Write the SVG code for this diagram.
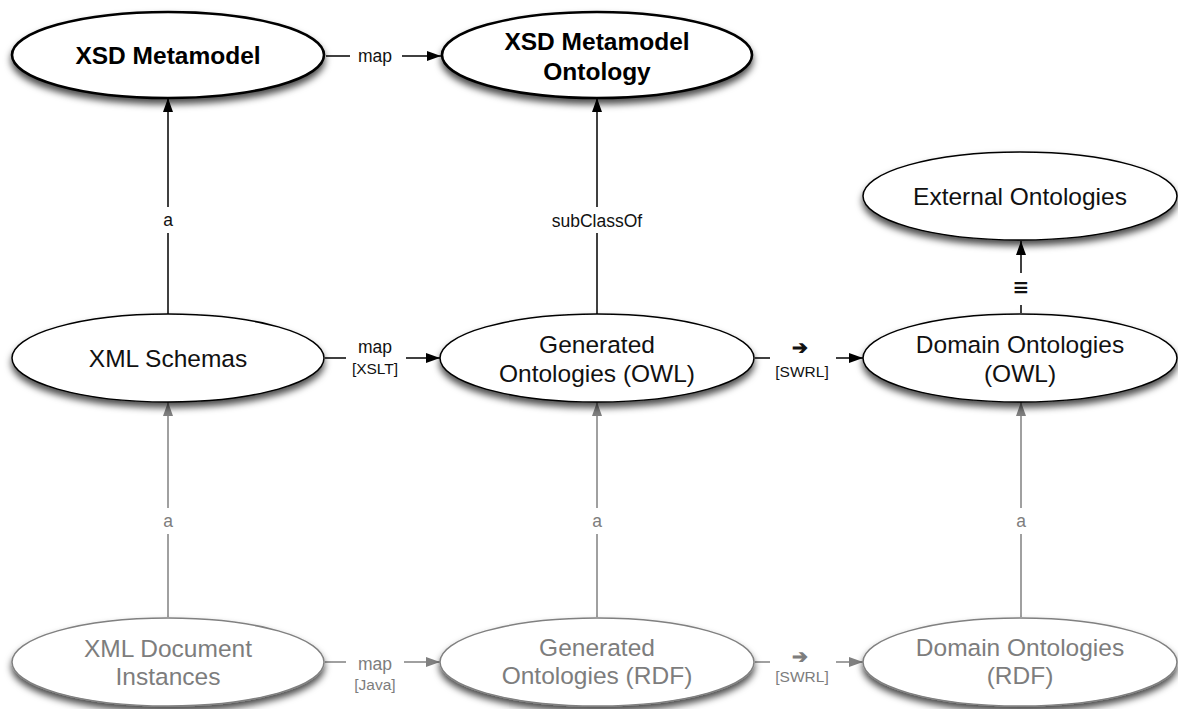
<svg xmlns="http://www.w3.org/2000/svg" width="1178" height="709" viewBox="0 0 1178 709">
  <style>
    .node ellipse { fill: #ffffff; filter: url(#shadow); }
    .top ellipse { stroke: #000; stroke-width: 2.6; }
    .mid ellipse { stroke: #000; stroke-width: 1.5; }
    .low ellipse { stroke: #808080; stroke-width: 1.5; }
    .nt { font-family: "Liberation Sans", Arial, sans-serif; font-size: 24.5px; text-anchor: middle; }
    .top .nt { font-weight: bold; fill: #000; }
    .mid .nt { fill: #111; }
    .low .nt { fill: #7d7d7d; }
    .lbl { font-family: "Liberation Sans", Arial, sans-serif; font-size: 17.5px; text-anchor: middle; fill: #111; }
    .lbl.sm { font-size: 15.5px; }
    .lbl.sym { font-size: 19px; font-weight: bold; }
    .lbl.eq { font-family: "DejaVu Sans", sans-serif; font-size: 20px; font-weight: bold; }
    .lbl.g { fill: #7d7d7d; }
    .e { fill: none; stroke: #000; stroke-width: 1.5; }
    .e.g { stroke: #808080; }
    .bg { fill: #ffffff; }
  </style>
  <defs>
    <filter id="shadow" x="-10%" y="-20%" width="120%" height="160%">
      <feDropShadow dx="0" dy="5" stdDeviation="3.5" flood-color="#000" flood-opacity="0.7"/>
    </filter>
    <marker id="ah" viewBox="0 0 14 10" refX="14" refY="5" markerWidth="14" markerHeight="10" markerUnits="userSpaceOnUse" orient="auto">
      <path d="M0,0 L14,5 L0,10 Z" fill="#000"/>
    </marker>
    <marker id="ahg" viewBox="0 0 14 10" refX="14" refY="5" markerWidth="14" markerHeight="10" markerUnits="userSpaceOnUse" orient="auto">
      <path d="M0,0 L14,5 L0,10 Z" fill="#808080"/>
    </marker>
  </defs>

  <rect width="1178" height="709" fill="#ffffff"/>

  <!-- connectors -->
  <g id="connectors">
    <!-- XSD Metamodel -> XSD Metamodel Ontology -->
    <line class="e" x1="326" y1="56" x2="350" y2="56"/>
    <line class="e" x1="402" y1="56" x2="441" y2="56" marker-end="url(#ah)"/>
    <text class="lbl" x="375" y="62">map</text>

    <!-- XML Schemas -> XSD Metamodel -->
    <line class="e" x1="168" y1="314" x2="168" y2="98" marker-end="url(#ah)"/>
    <rect class="bg" x="158" y="207" width="20" height="26"/>
    <text class="lbl" x="168" y="226">a</text>

    <!-- Generated (OWL) -> XSD Metamodel Ontology -->
    <line class="e" x1="597" y1="314" x2="597" y2="98" marker-end="url(#ah)"/>
    <rect class="bg" x="546" y="207" width="102" height="26"/>
    <text class="lbl" x="597" y="227">subClassOf</text>

    <!-- Domain (OWL) -> External Ontologies -->
    <line class="e" x1="1021" y1="313" x2="1021" y2="305"/>
    <line class="e" x1="1021" y1="273" x2="1021" y2="241" marker-end="url(#ah)"/>
    <text class="lbl eq" x="1021" y="294">≡</text>

    <!-- XML Schemas -> Generated (OWL) -->
    <line class="e" x1="325" y1="358" x2="346" y2="358"/>
    <line class="e" x1="406" y1="358" x2="440" y2="358" marker-end="url(#ah)"/>
    <text class="lbl" x="375" y="353">map</text>
    <text class="lbl sm" x="375" y="374">[XSLT]</text>

    <!-- Generated (OWL) -> Domain (OWL) -->
    <line class="e" x1="755" y1="358" x2="770" y2="358"/>
    <line class="e" x1="836" y1="358" x2="863" y2="358" marker-end="url(#ah)"/>
    <text class="lbl sym" x="800" y="354">➔</text>
    <text class="lbl sm" x="802" y="377">[SWRL]</text>

    <!-- bottom row up to middle row -->
    <line class="e g" x1="168" y1="617" x2="168" y2="402" marker-end="url(#ahg)"/>
    <rect class="bg" x="158" y="508" width="20" height="26"/>
    <text class="lbl g" x="168" y="527">a</text>

    <line class="e g" x1="597" y1="617" x2="597" y2="402" marker-end="url(#ahg)"/>
    <rect class="bg" x="587" y="508" width="20" height="26"/>
    <text class="lbl g" x="597" y="527">a</text>

    <line class="e g" x1="1021" y1="617" x2="1021" y2="402" marker-end="url(#ahg)"/>
    <rect class="bg" x="1011" y="508" width="20" height="26"/>
    <text class="lbl g" x="1021" y="527">a</text>

    <!-- XML Document Instances -> Generated (RDF) -->
    <line class="e g" x1="325" y1="662" x2="346" y2="662"/>
    <line class="e g" x1="404" y1="662" x2="440" y2="662" marker-end="url(#ahg)"/>
    <text class="lbl g" x="375" y="670">map</text>
    <text class="lbl sm g" x="375" y="690">[Java]</text>

    <!-- Generated (RDF) -> Domain (RDF) -->
    <line class="e g" x1="755" y1="662" x2="770" y2="662"/>
    <line class="e g" x1="836" y1="662" x2="863" y2="662" marker-end="url(#ahg)"/>
    <text class="lbl sym g" x="800" y="663">➔</text>
    <text class="lbl sm g" x="802" y="682">[SWRL]</text>
  </g>

  <!-- top row -->
  <g id="xsd-metamodel" class="node top">
    <ellipse cx="168" cy="55" rx="156" ry="43"/>
    <text class="nt" x="168" y="64">XSD Metamodel</text>
  </g>
  <g id="xsd-metamodel-ontology" class="node top">
    <ellipse cx="597" cy="55" rx="155" ry="43"/>
    <text class="nt" x="597" y="50">XSD Metamodel</text>
    <text class="nt" x="597" y="80">Ontology</text>
  </g>
  <g id="external-ontologies" class="node mid">
    <ellipse cx="1020" cy="196" rx="157" ry="44"/>
    <text class="nt" x="1020" y="205">External Ontologies</text>
  </g>

  <!-- middle row -->
  <g id="xml-schemas" class="node mid">
    <ellipse cx="168" cy="358" rx="156" ry="44"/>
    <text class="nt" x="168" y="367">XML Schemas</text>
  </g>
  <g id="generated-owl" class="node mid">
    <ellipse cx="597" cy="358" rx="157" ry="44"/>
    <text class="nt" x="597" y="353">Generated</text>
    <text class="nt" x="597" y="382">Ontologies (OWL)</text>
  </g>
  <g id="domain-owl" class="node mid">
    <ellipse cx="1020" cy="358" rx="157" ry="44"/>
    <text class="nt" x="1020" y="353">Domain Ontologies</text>
    <text class="nt" x="1020" y="382">(OWL)</text>
  </g>

  <!-- bottom row -->
  <g id="xml-document-instances" class="node low">
    <ellipse cx="168" cy="662" rx="156" ry="44"/>
    <text class="nt" x="168" y="657">XML Document</text>
    <text class="nt" x="168" y="685">Instances</text>
  </g>
  <g id="generated-rdf" class="node low">
    <ellipse cx="597" cy="662" rx="157" ry="44"/>
    <text class="nt" x="597" y="656">Generated</text>
    <text class="nt" x="597" y="684">Ontologies (RDF)</text>
  </g>
  <g id="domain-rdf" class="node low">
    <ellipse cx="1020" cy="662" rx="157" ry="44"/>
    <text class="nt" x="1020" y="656">Domain Ontologies</text>
    <text class="nt" x="1020" y="684">(RDF)</text>
  </g>
</svg>
